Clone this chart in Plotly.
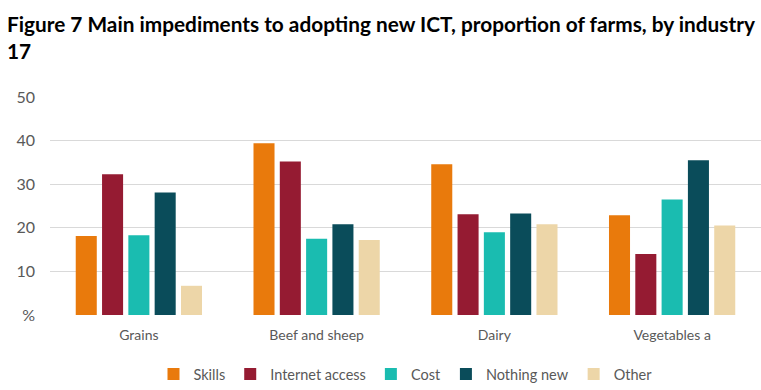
import plotly.graph_objects as go

categories = ["Grains", "Beef and sheep", "Dairy", "Vegetables a"]
series_names = ["Skills", "Internet access", "Cost", "Nothing new", "Other"]
skills = [18.1, 39.4, 34.6, 22.9]
internet_access = [32.3, 35.2, 23.1, 14.0]
cost = [18.3, 17.5, 19.0, 26.5]
nothing_new = [28.1, 20.8, 23.3, 35.5]
other = [6.7, 17.2, 20.8, 20.5]
tick_vals = [0, 10, 20, 30, 40, 50]
tick_text = ["%", "10", "20", "30", "40", "50"]
title_line1 = "Figure 7 Main impediments to adopting new ICT, proportion of farms, by industry"
title_line2 = "17"

colors = ["#E97A0C", "#951B32", "#1ABCB0", "#0A4C5A", "#EDD6A8"]
values = [skills, internet_access, cost, nothing_new, other]

fig = go.Figure()
for name, vals, col in zip(series_names, values, colors):
    fig.add_trace(go.Bar(name=name, x=categories, y=vals, marker=dict(color=col, line=dict(width=0))))

title_font = dict(family="Lato", size=20.8, color="#000000", weight="bold")
fig.add_annotation(text=title_line1, xref="paper", yref="paper", x=-45/711, y=1 + (97-24)/218,
                   xanchor="left", yanchor="middle", showarrow=False, font=title_font)
fig.add_annotation(text=title_line2, xref="paper", yref="paper", x=-45/711, y=1 + (97-51)/218,
                   xanchor="left", yanchor="middle", showarrow=False, font=title_font)

fig.update_layout(
    width=761, height=390,
    paper_bgcolor="white", plot_bgcolor="white",
    margin=dict(l=50, r=0, t=97, b=75, autoexpand=False),
    barmode="group", bargap=0.26, bargroupgap=0.2,
    font=dict(family="Lato", color="#595959", size=14),
    legend=dict(orientation="h", x=0.5, xanchor="center", y=-59/218, yanchor="middle",
                font=dict(size=14.5, color="#595959"), traceorder="normal", itemwidth=30),
    showlegend=True,
)
fig.update_yaxes(range=[0, 50], tickvals=tick_vals, ticktext=tick_text, showgrid=True,
                 gridcolor="#D9D9D9", gridwidth=1, zeroline=False, showline=False, automargin=False,
                 ticks="", ticklabelstandoff=14, tickfont=dict(size=16, color="#595959"))
fig.update_xaxes(showline=False, ticks="", automargin=False, ticklabelstandoff=10,
                 tickfont=dict(size=14, color="#595959"))

fig.write_html("out.html", config={"displayModeBar": False},
               post_script="document.body.style.margin='0';")
